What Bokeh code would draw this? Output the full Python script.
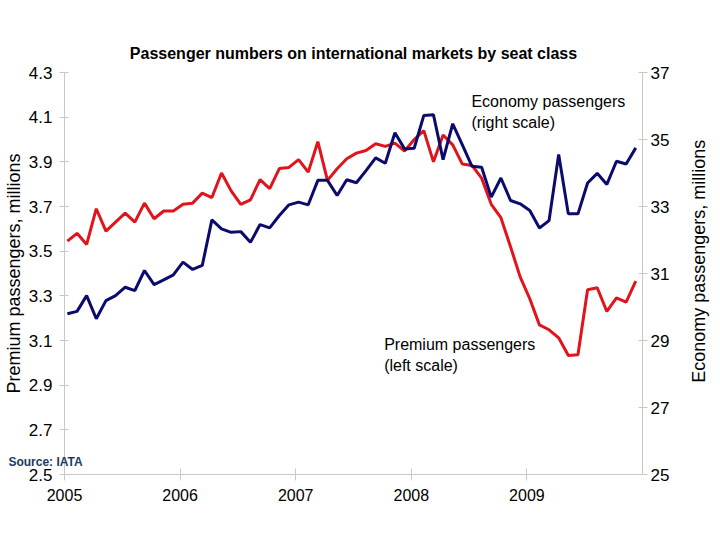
import math
from bokeh.plotting import figure
from bokeh.models import Range1d, LinearAxis, FixedTicker, Label, ColumnDataSource
from bokeh.embed import file_html
from bokeh.resources import INLINE

# Monthly data, Jan 2005 - Dec 2009
years = [2005, 2006, 2007, 2008, 2009]
month_index = list(range(60))

premium = [3.545, 3.58, 3.53, 3.69, 3.59, 3.63, 3.67, 3.63, 3.715, 3.645, 3.68, 3.68,
           3.71, 3.715, 3.76, 3.74, 3.85, 3.77, 3.71, 3.73, 3.82, 3.78, 3.87, 3.875,
           3.91, 3.854, 3.99, 3.817, 3.869, 3.914, 3.939, 3.951, 3.981, 3.969, 3.984, 3.948,
           4.00, 4.04, 3.90, 4.02, 3.976, 3.89, 3.884, 3.827, 3.71, 3.65, 3.52, 3.385,
           3.287, 3.17, 3.148, 3.112, 3.033, 3.036, 3.327, 3.336, 3.23, 3.291, 3.272, 3.366]

economy = [29.80, 29.87, 30.34, 29.65, 30.19, 30.34, 30.59, 30.49, 31.09, 30.67, 30.81, 30.96,
           31.34, 31.12, 31.24, 32.60, 32.33, 32.23, 32.25, 31.93, 32.46, 32.36, 32.73, 33.05,
           33.13, 33.05, 33.78, 33.78, 33.33, 33.80, 33.71, 34.07, 34.45, 34.29, 35.20, 34.72,
           34.74, 35.72, 35.74, 34.40, 35.47, 34.84, 34.20, 34.17, 33.28, 33.85, 33.18, 33.08,
           32.88, 32.36, 32.58, 34.55, 32.78, 32.78, 33.70, 33.99, 33.66, 34.35, 34.27, 34.75]

left_ticks = [2.5, 2.7, 2.9, 3.1, 3.3, 3.5, 3.7, 3.9, 4.1, 4.3]
right_ticks = [25, 27, 29, 31, 33, 35, 37]

x = [years[0] + (m + 0.3) / 12.0 for m in month_index]
src = ColumnDataSource(dict(x=x, premium=premium, economy=economy))

FONT = "Liberation Sans"
GRID = "#C8C8C8"

p = figure(width=712, height=532, output_backend="svg", toolbar_location=None,
           x_range=Range1d(2005, 2010), y_range=Range1d(2.5, 4.3),
           min_border_left=57, min_border_right=70, min_border_top=72, min_border_bottom=58,
           title="Passenger numbers on international markets by seat class")
p.extra_y_ranges = {"econ": Range1d(25, 37)}
p.outline_line_color = None
p.xgrid.visible = False
p.ygrid.visible = False

p.title.align = "center"
p.title.text_font = FONT
p.title.text_font_size = "16px"
p.title.text_font_style = "bold"
p.title.text_color = "black"
p.title.standoff = 22

def style(ax, size="17px"):
    ax.axis_line_color = GRID
    ax.major_tick_line_color = GRID
    ax.minor_tick_line_color = None
    ax.major_label_text_font = FONT
    ax.major_label_text_font_size = size
    ax.major_label_text_color = "black"
    ax.axis_label_text_font = FONT
    ax.axis_label_text_font_size = "18px"
    ax.axis_label_text_font_style = "normal"
    ax.axis_label_text_color = "black"

xa = p.xaxis[0]
style(xa, "16px")
xa.ticker = FixedTicker(ticks=years)
xa.major_tick_in = 6
xa.major_tick_out = 6
xa.major_label_standoff = 8

ya = p.yaxis[0]
style(ya)
ya.ticker = FixedTicker(ticks=left_ticks)
ya.major_tick_in = 4
ya.major_tick_out = 5
ya.major_label_standoff = 7
ya.axis_label = "Premium passengers, millions"
ya.axis_label_standoff = 2

ra = LinearAxis(y_range_name="econ")
style(ra)
ra.ticker = FixedTicker(ticks=right_ticks)
ra.major_tick_in = 4
ra.major_tick_out = 5
ra.major_label_standoff = 3
ra.axis_label = None
ra.axis_label_standoff = 0
p.add_layout(ra, "right")

# right-side axis title, reading bottom to top
p.add_layout(Label(x=2010.49, y=3.455, text="Economy passengers, millions", angle=math.pi / 2,
                   text_font=FONT, text_font_size="18px", text_color="black",
                   text_line_height=1.0,
                   text_baseline="middle", text_align="center"), "right")

p.line("x", "premium", source=src, line_color="#E1141C", line_width=3)
p.line("x", "economy", source=src, line_color="#0B0B6E", line_width=3, y_range_name="econ")

p.add_layout(Label(x=2008.52, y=4.207, text="Economy passengers\n(right scale)",
                   text_font=FONT, text_font_size="16px", text_color="black",
                   text_baseline="top", text_align="left"))
p.add_layout(Label(x=2007.765, y=3.118, text="Premium passengers\n(left scale)",
                   text_font=FONT, text_font_size="16px", text_color="black",
                   text_baseline="top", text_align="left"))
p.add_layout(Label(x=2004.515, y=2.554, text="Source: IATA",
                   text_font=FONT, text_font_size="12px", text_color="#203C5C",
                   text_font_style="bold", text_baseline="middle", text_align="left"), "below")

open("out.html", "w").write(file_html(p, INLINE))
